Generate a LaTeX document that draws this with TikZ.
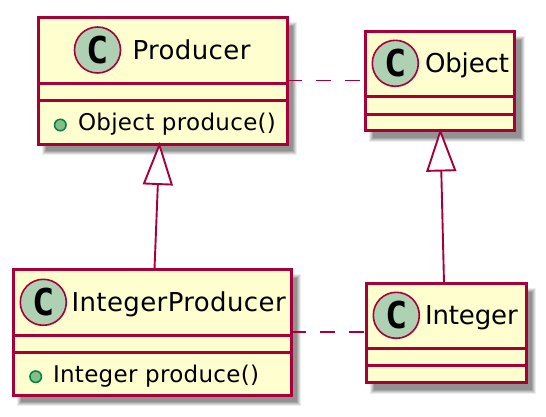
\documentclass[tikz,border=0pt]{standalone}
\usepackage{fontspec}
\setmainfont{DejaVu Sans}
\newfontfamily\spotfont{DejaVu Sans Mono Bold}
\usetikzlibrary{arrows.meta}
\definecolor{umlline}{HTML}{A80036}
\definecolor{umlfill}{HTML}{FEFECE}
\definecolor{spotfill}{HTML}{ADD1B2}
\definecolor{plusfill}{HTML}{84BE84}
\definecolor{plusline}{HTML}{038048}
\tikzset{
  classbox/.style={draw=umlline,fill=umlfill,line width=3pt,outer sep=0pt,inner sep=0pt,rectangle},
  spot/.style={circle,draw=umlline,fill=spotfill,line width=1.6pt,minimum size=46pt,inner sep=0pt,outer sep=0pt,font=\spotfont\fontsize{37}{37}\selectfont,text=black},
  title/.style={anchor=base west,inner sep=0pt,outer sep=0pt,font=\fontsize{26}{30}\selectfont\addfontfeature{LetterSpace=1.5},text=black},
  plaintitle/.style={title,font=\fontsize{26}{30}\selectfont\addfontfeature{LetterSpace=-0.5}},
  member/.style={anchor=base west,inner sep=0pt,outer sep=0pt,font=\fontsize{23}{27}\selectfont\addfontfeature{LetterSpace=1.3},text=black},
  plusmark/.style={circle,draw=plusline,fill=plusfill,line width=1.5pt,minimum size=11.5pt,inner sep=0pt,outer sep=0pt},
  divider/.style={draw=umlline,line width=3pt},
  assoc/.style={draw=umlline,line width=1.9pt,dash pattern=on 15pt off 14pt},
  extends/.style={draw=umlline,line width=1.9pt,-{Triangle[open,fill=white,length=43pt,width=30pt]}},
}
\newcommand{\softshadow}[4]{%
  \foreach \e/\o in {3/0.07,2/0.09,1/0.11,0/0.12,-1/0.12}{%
    \fill[black,opacity=\o] (#1+7-\e,#2+8-\e) rectangle (#3+7+\e,#4+8+\e);}}
\begin{document}
\begin{tikzpicture}[x=1pt,y=-1pt]
\useasboundingbox (0,0) rectangle (546,416);
\fill[white] (0,0) rectangle (546,416);

\softshadow{38}{17}{287}{144}
\softshadow{365}{31}{514.5}{130.5}
\softshadow{13}{269}{291}{395}
\softshadow{366}{283}{526}{382.5}

\node[classbox,minimum width=249pt,minimum height=127pt] (producer) at (162.5,80.5) {};
\node[classbox,minimum width=149.5pt,minimum height=99.5pt] (object) at (439.75,80.75) {};
\node[classbox,minimum width=278pt,minimum height=126pt] (intproducer) at (152,332) {};
\node[classbox,minimum width=160pt,minimum height=99.5pt] (integer) at (446,332.75) {};

\draw[divider] (producer.west |- 0,83.2) -- (producer.east |- 0,83.2);
\draw[divider] (producer.west |- 0,100.2) -- (producer.east |- 0,100.2);
\draw[divider] (object.west |- 0,96.7) -- (object.east |- 0,96.7);
\draw[divider] (object.west |- 0,114) -- (object.east |- 0,114);
\draw[divider] (intproducer.west |- 0,335.7) -- (intproducer.east |- 0,335.7);
\draw[divider] (intproducer.west |- 0,352.7) -- (intproducer.east |- 0,352.7);
\draw[divider] (integer.west |- 0,348.7) -- (integer.east |- 0,348.7);
\draw[divider] (integer.west |- 0,365.3) -- (integer.east |- 0,365.3);

\node[spot] (spotA) at (97.5,50) {C};
\node[spot] (spotB) at (395.3,63.3) {C};
\node[spot] (spotC) at (43.3,302.3) {C};
\node[spot] (spotD) at (396.3,315.3) {C};

\node[title] (tA) at (132.5,59.5) {Producer};
\node[plaintitle] (tB) at (425,72) {Object};
\node[title] (tC) at (71.5,311) {IntegerProducer};
\node[plaintitle] (tD) at (425,324.5) {Integer};

\node[plusmark] (plusA) at (60.3,125) {};
\node[plusmark] (plusC) at (35.7,376.7) {};
\node[member] (mA) at (78,130) {Object produce()};
\node[member] (mC) at (53,382) {Integer produce()};

\draw[extends] ([xshift=2.5pt]intproducer.north) -- ([xshift=-3pt,yshift=2pt]producer.south);
\draw[extends] ([xshift=-2pt]integer.north) -- ([yshift=2pt,xshift=0.5pt]object.south);
\draw[assoc] (producer.east |- 0,80.5) -- (object.west |- 0,80.5);
\draw[assoc] (intproducer.east |- 0,332) -- (integer.west |- 0,332);
\end{tikzpicture}
\end{document}
